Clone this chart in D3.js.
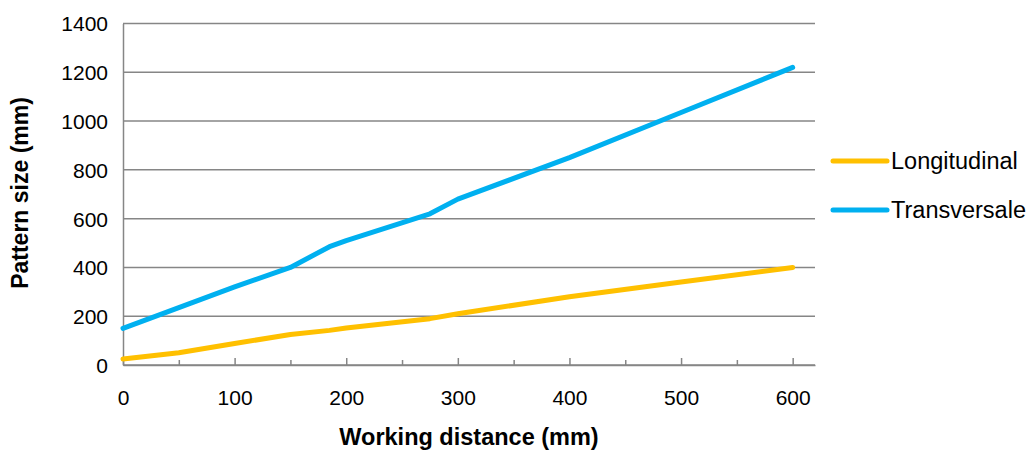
<!DOCTYPE html>
<html>
<head>
<meta charset="utf-8">
<script src="https://cdn.jsdelivr.net/npm/d3@7"></script>
<style>
  body { margin: 0; background: #fff; }
  text { font-family: "Liberation Sans", Arial, sans-serif; fill: #000; }
</style>
</head>
<body>
<div id="chart"></div>
<script>
// working distance (mm)
var distance = [0, 50, 100, 150, 185, 200, 275, 300, 400, 500, 600];
var longitudinal = [25, 50, 88, 125, 142, 152, 190, 210, 280, 340, 400];
var transversale = [150, 235, 320, 400, 485, 510, 620, 680, 850, 1035, 1220];
var seriesNames = ['Longitudinal', 'Transversale'];
var yTicks = [0, 200, 400, 600, 800, 1000, 1200, 1400];
var xTicks = [0, 100, 200, 300, 400, 500, 600];

var width = 1033, height = 452;
var margin = {'top': 23.5, 'left': 123, 'right': 218, 'bottom': 87};

var svg = d3.select('#chart')
  .append('svg')
  .attr('width', width)
  .attr('height', height);

var x = d3.scaleLinear()
  .domain([0, 620])
  .range([margin.left, width - margin.right]);

var y = d3.scaleLinear()
  .domain([0, 1400])
  .range([height - margin.bottom, margin.top]);

var grey = '#868686';

// gridlines
svg.append('g')
  .selectAll('line')
  .data(yTicks)
  .enter()
  .append('line')
  .attr('x1', x(0))
  .attr('x2', x(620))
  .attr('y1', function(d) { return y(d); })
  .attr('y2', function(d) { return y(d); })
  .attr('stroke', grey)
  .attr('stroke-width', 1.5);

// y axis
var yAxis = svg.append('g')
  .attr('transform', 'translate(' + x(0) + ',0)')
  .call(d3.axisLeft(y).tickValues(yTicks).tickFormat(d3.format('d')).tickSize(0).tickPadding(15));
yAxis.select('.domain').attr('stroke', grey).attr('stroke-width', 1.5);
yAxis.selectAll('text').style('font-size', '21px').attr('dy', '0.35em');

// x axis, minor ticks every 50
var xAxis = svg.append('g')
  .attr('transform', 'translate(0,' + y(0) + ')')
  .call(d3.axisBottom(x).tickValues(d3.range(0, 601, 50)).tickSizeInner(-7).tickSizeOuter(0)
    .tickFormat(function(d) { return xTicks.indexOf(d) >= 0 ? d : ''; }));
xAxis.select('.domain').attr('stroke', grey).attr('stroke-width', 1.5);
xAxis.selectAll('line').attr('stroke', grey).attr('stroke-width', 1.5)
  .attr('y2', function(d) { return d % 100 == 0 ? -7 : -5; });
xAxis.selectAll('text').style('font-size', '21px').attr('y', 33).attr('dy', '0.35em');

// lines
var line = d3.line()
  .x(function(d) { return x(d[0]); })
  .y(function(d) { return y(d[1]); });

var colors = ['#FFC000', '#00B0F0'];
var series = [longitudinal, transversale];

series.forEach(function(s, i) {
  svg.append('path')
    .datum(distance.map(function(d, j) { return [d, s[j]]; }))
    .attr('d', line)
    .attr('fill', 'none')
    .attr('stroke', colors[i])
    .attr('stroke-width', 5)
    .attr('stroke-linecap', 'round')
    .attr('stroke-linejoin', 'round');
});

// legend
var legend = svg.append('g');
seriesNames.forEach(function(name, i) {
  var ly = 161 + i * 49;
  legend.append('line')
    .attr('x1', 833).attr('x2', 887)
    .attr('y1', ly).attr('y2', ly)
    .attr('stroke', colors[i])
    .attr('stroke-width', 5)
    .attr('stroke-linecap', 'round');
  legend.append('text')
    .attr('x', 891).attr('y', ly)
    .attr('dy', '0.35em')
    .style('font-size', '23.5px')
    .text(name);
});

// axis titles
svg.append('text')
  .attr('x', 469).attr('y', 437)
  .attr('dy', '0.35em')
  .attr('text-anchor', 'middle')
  .style('font-size', '23.5px')
  .style('font-weight', 'bold')
  .text('Working distance (mm)');

svg.append('text')
  .attr('transform', 'translate(20,193) rotate(-90)')
  .attr('dy', '0.35em')
  .attr('text-anchor', 'middle')
  .style('font-size', '23px')
  .style('font-weight', 'bold')
  .text('Pattern size (mm)');
</script>
</body>
</html>
